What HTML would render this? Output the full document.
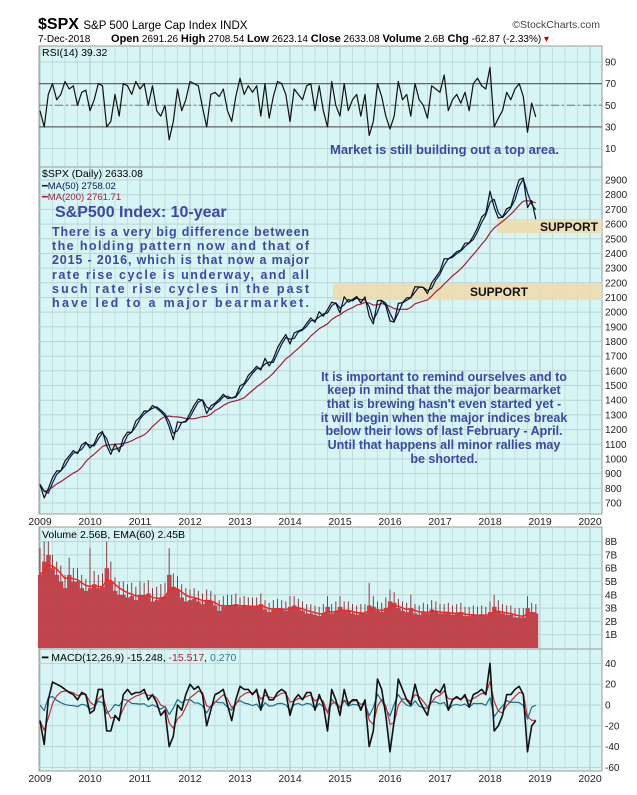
<!DOCTYPE html>
<html><head><meta charset="utf-8">
<style>
body{margin:0;background:#fff;width:637px;height:795px;overflow:hidden;font-family:"Liberation Sans",sans-serif;}
svg{display:block}
.ann{font-family:"Liberation Sans",sans-serif;font-weight:bold;fill:#3d47a6;}
</style></head>
<body>
<svg id="chart" width="637" height="795" viewBox="0 0 637 795" xmlns="http://www.w3.org/2000/svg">
<text x="38" y="29" font-size="16" font-weight="bold">$SPX <tspan font-size="11.5" font-weight="normal">S&amp;P 500 Large Cap Index  INDX</tspan></text>
<text x="600" y="28" font-size="10.5" text-anchor="end" fill="#444">©StockCharts.com</text>
<text x="38" y="42" font-size="10">7-Dec-2018 <tspan dx="18" font-weight="bold" font-size="11">Open</tspan> 2691.26 <tspan font-weight="bold" font-size="11">High</tspan> 2708.54 <tspan font-weight="bold" font-size="11">Low</tspan> 2623.14 <tspan font-weight="bold" font-size="11">Close</tspan> 2633.08 <tspan font-weight="bold" font-size="11">Volume</tspan> 2.6B <tspan font-weight="bold" font-size="11">Chg</tspan> -62.87 (-2.33%) <tspan fill="#c00">▾</tspan></text>
<g id="panels"></g>
<g id="marks"></g>
<g id="labels">
<text x="42" y="56" font-size="10.5">RSI(14) 39.32</text>
<text x="42" y="177" font-size="10.5">$SPX (Daily) 2633.08</text>
<text x="42" y="189" font-size="9.5" fill="#001a5a">━MA(50) 2758.02</text>
<text x="42" y="200" font-size="9.5" fill="#a0203c">━MA(200) 2761.71</text>
<text x="42" y="538" font-size="10.5">Volume 2.56B, EMA(60) 2.45B</text>
<text x="42" y="661" font-size="10.5">━ MACD(12,26,9) -15.248, <tspan fill="#b02030">-15.517</tspan>, <tspan fill="#2a7a9a">0.270</tspan></text>
<text class="ann" x="330" y="154" font-size="13">Market is still building out a top area.</text>
<text class="ann" x="55" y="217" font-size="16">S&amp;P500 Index: 10-year</text>
<g class="ann" font-size="12.5">
<text x="52" y="236" textLength="257">There is a very big difference between</text>
<text x="52" y="250" textLength="257">the holding pattern now and that of</text>
<text x="52" y="264" textLength="257">2015 - 2016, which is that now a major</text>
<text x="52" y="279" textLength="257">rate rise cycle is underway, and all</text>
<text x="52" y="293" textLength="257">such rate rise cycles in the past</text>
<text x="52" y="307" textLength="257">have led to a major bearmarket.</text>
</g>
<g class="ann" font-size="12.5" text-anchor="middle">
<text x="444" y="381">It is important to remind ourselves and to</text>
<text x="444" y="394">keep in mind that the major bearmarket</text>
<text x="444" y="408">that is brewing hasn't even started yet -</text>
<text x="444" y="422">it will begin when the major indices break</text>
<text x="444" y="435">below their lows of last February - April.</text>
<text x="444" y="449">Until that happens all minor rallies may</text>
<text x="444" y="463">be shorted.</text>
</g>
</g>
</svg>
<script>
const years=["2009","2010","2011","2012","2013","2014","2015","2016","2017","2018","2019","2020"];
const price=[826,735,798,873,919,919,987,1021,1057,1036,1096,1115,
1074,1104,1169,1187,1089,1031,1102,1049,1141,1183,1181,1258,
1286,1327,1326,1364,1345,1321,1292,1219,1131,1253,1247,1258,
1312,1366,1408,1398,1310,1362,1379,1407,1441,1412,1416,1426,
1498,1515,1569,1598,1631,1606,1686,1633,1682,1757,1806,1848,
1783,1859,1872,1884,1924,1960,1931,2003,1972,2018,2068,2059,
1995,2105,2068,2086,2107,2063,2104,1972,1920,2079,2080,2044,
1940,1932,2060,2065,2097,2099,2174,2171,2168,2126,2199,2239,
2279,2364,2363,2384,2412,2423,2470,2472,2519,2575,2648,2674,
2824,2714,2641,2648,2705,2718,2816,2902,2914,2712,2760,2633];
const priceTicks=[700,800,900,1000,1100,1200,1300,1400,1500,1600,1700,1800,1900,2000,2100,2200,2300,2400,2500,2600,2700,2800,2900];
const rsi=[45,30,60,70,55,60,72,65,68,50,62,64,
45,55,70,68,30,35,60,40,70,68,60,72,
65,70,50,68,45,40,50,18,35,65,45,55,
72,70,68,48,30,60,62,58,65,45,35,58,
75,60,68,62,68,40,70,38,58,72,70,60,
35,65,60,55,68,70,45,68,45,30,72,50,
40,70,45,55,60,40,60,22,35,70,58,40,
28,40,72,55,60,40,70,55,50,38,68,65,
62,78,45,55,60,52,62,45,70,75,68,65,
85,30,38,45,62,55,65,70,58,25,52,39];
const rsiTicks=[10,30,50,70,90];
const volume=[5.5,6.5,7,6,5.5,5,4.5,5.5,5,5,4.5,4.3,
4.5,4.8,4.5,4.6,6,5,4.3,4,4,3.8,3.9,3.6,
4,3.9,4.1,3.5,3.6,3.8,3.9,5.5,4.6,4.4,3.8,3.5,
3.6,3.7,3.5,3.3,3.6,3.5,3.2,2.8,3.1,3.2,3.2,3.3,
3.1,3.2,3.1,3.1,3.1,3.3,2.9,2.7,2.9,3.0,2.9,2.8,
3.1,3.2,3.0,2.8,2.6,2.6,2.5,2.4,2.6,3.1,2.6,2.8,
3.1,2.8,2.8,2.6,2.5,2.6,2.6,3.2,3.1,2.8,2.7,3.0,
3.5,3.4,3.0,2.8,2.7,3.0,2.6,2.5,2.7,2.6,2.9,2.8,
2.6,2.6,2.7,2.5,2.6,2.7,2.4,2.4,2.5,2.4,2.5,2.4,
2.7,3.1,2.8,2.6,2.5,2.5,2.3,2.3,2.3,3.0,2.7,2.6];
const volPeak=[7.5,8,8,7,6.5,6.2,5.5,6.8,6,6,5.5,5.2,
7.5,5.8,5.5,5.6,8,6.5,5.3,5,5,4.8,4.9,4.6,
5,4.9,5.1,4.5,4.6,4.8,4.9,7.5,5.6,5.4,4.8,4.5,
4.4,4.5,4.3,4.1,4.4,4.3,4,3.6,3.9,4,4,4.1,
3.8,3.9,3.8,3.8,3.8,4.1,3.6,3.4,3.6,3.7,3.6,3.5,
3.9,3.9,3.7,3.5,3.3,3.3,3.2,3.1,3.3,3.9,3.3,3.5,
3.9,3.5,3.5,3.3,3.2,3.3,3.3,4.9,3.9,3.5,3.4,3.8,
4.4,4.2,3.7,3.5,3.4,4,3.3,3.2,3.4,3.3,3.6,3.5,
3.3,3.3,3.4,3.2,3.3,3.4,3.1,3.1,3.2,3.1,3.2,3.1,
3.5,4,3.6,3.3,3.2,3.2,3,3,3,3.9,3.4,3.3];
const volTicks=[1,2,3,4,5,6,7,8];
const macd=[-15,-38,5,22,20,18,15,12,10,5,12,10,
-8,-5,15,15,-25,-25,-10,-15,10,15,10,12,
12,15,5,10,2,-10,-5,-40,-30,0,-5,10,
20,15,18,10,-20,-5,10,12,15,0,-15,5,
18,15,15,10,15,-5,15,5,5,12,15,12,
-10,5,10,5,12,12,-5,10,0,-25,15,5,
-10,15,0,5,5,-5,5,-40,-25,25,15,-10,
-45,-15,25,15,5,0,20,5,-3,-10,10,15,
12,20,-5,5,8,5,10,-2,10,12,15,10,
40,-25,-20,-10,10,10,15,18,10,-45,-20,-15];
const macdTicks=[-60,-40,-20,0,20,40];

const NS="http://www.w3.org/2000/svg";
const X0=39,X1=602;
const xT=t=>40+t*50;
const xi=i=>xT(i/12);
const yRsi=v=>148.5-(v-10)*(86.5/80);
const yPrice=v=>503-(v-700)*0.1468;
const yVol=v=>648-v*13.3;
const yMacd=v=>705-v*1.04;
function el(tag,attrs,parent){const e=document.createElementNS(NS,tag);for(const k in attrs)e.setAttribute(k,attrs[k]);parent.appendChild(e);return e;}
const panels=document.getElementById('panels'),marks=document.getElementById('marks');
function panel(name,top,bot,ticks,yf,fmt){
  const r=el('rect',{x:X0,y:top,width:X1-X0,height:bot-top,fill:'#d8f5f5',stroke:'#999','stroke-width':1},panels);
  
  
  for(let q=0;q<=44;q++){const x=xT(q/4);if(x>X1)break;
    const l=el('line',{x1:x,x2:x,y1:top,y2:bot,stroke:q%4?'#c2dede':'#a8c8c8','stroke-width':1},panels);
    
    }
  ticks.forEach(v=>{const y=yf(v);
    const l=el('line',{x1:X0,x2:X1,y1:y,y2:y,stroke:'#b8d4d4','stroke-width':1},panels);
    
    
    const t=el('text',{x:605,y:y+3.5,'font-size':10,fill:'#222'},panels);t.textContent=fmt(v);
    
    });
}
function xLabels(y){years.forEach((s,k)=>{const t=el('text',{x:xT(k),y:y,'font-size':10.5,'text-anchor':'middle',fill:'#222'},panels);t.textContent=s;
  
  });}
panel('rsi',46,167,rsiTicks,yRsi,v=>v);
panel('price',167,514,priceTicks,yPrice,v=>v);
panel('volume',527,649,volTicks,yVol,v=>v+'B');
panel('macd',649,771,macdTicks,yMacd,v=>v);
xLabels(525);xLabels(782);
[30,70].forEach(v=>{const l=el('line',{x1:X0,x2:X1,y1:yRsi(v),y2:yRsi(v),stroke:'#666','stroke-width':1.2},panels);
  
  });
const mid=el('line',{x1:X0,x2:X1,y1:yRsi(50),y2:yRsi(50),stroke:'#777','stroke-dasharray':'8 3 2 3'},panels);


const s1=el('rect',{x:333,y:283,width:X1-333,height:17,fill:'#eedcae',opacity:0.9},panels);


const s2=el('rect',{x:497,y:219,width:X1-497,height:14,fill:'#eedcae',opacity:0.9},panels);


const t1=el('text',{x:470,y:296,'font-size':12,'font-weight':'bold',fill:'#111'},panels);t1.textContent='SUPPORT';


const t2=el('text',{x:540,y:231,'font-size':12,'font-weight':'bold',fill:'#111'},panels);t2.textContent='SUPPORT';



function line(arr,yf,color,w,name){const d=arr.map((v,i)=>(i?'L':'M')+xi(i).toFixed(1)+','+yf(v).toFixed(1)).join('');
  const p=el('path',{d:d,fill:'none',stroke:color,'stroke-width':w,'stroke-linejoin':'round'},marks);
  
  return p;}
function sma(a,n){return a.map((v,i)=>{const s=a.slice(Math.max(0,i-n+1),i+1);return s.reduce((x,y)=>x+y,0)/s.length;});}
function ema(a,k){let e=a[0];return a.map(v=>e=e+k*(v-e));}
line(rsi,yRsi,'#111',1.2,'rsi-line');
line(sma(price,10),yPrice,'#a0203c',1.2,'ma200-line');
line(sma(price,2),yPrice,'#001a5a',1.2,'ma50-line');
line(price,yPrice,'#111',1.2,'price-line');
const bw=50/12;
volPeak.forEach((v,i)=>{const s=el('line',{x1:xi(i),x2:xi(i),y1:yVol(v),y2:yVol(0),stroke:'#8a3a40','stroke-width':1},marks);
  
  });
volume.forEach((v,i)=>{const b=el('rect',{x:xi(i)-bw/2,y:yVol(v),width:bw+0.3,height:yVol(0)-yVol(v),fill:'#c0444c'},marks);
  
  });
line(ema(volume,0.35),yVol,'#ff2020',1.5,'volume-ema-line');
const sig=ema(macd,0.4);
const hist=macd.map((v,i)=>v-sig[i]);
line(hist.map(v=>v*0.4),yMacd,'#1f6e8c',1.2,'macd-histogram-line');
line(sig,yMacd,'#c0303a',1.2,'macd-signal-line');
line(macd,yMacd,'#111',1.6,'macd-line');
</script>
</body></html>
